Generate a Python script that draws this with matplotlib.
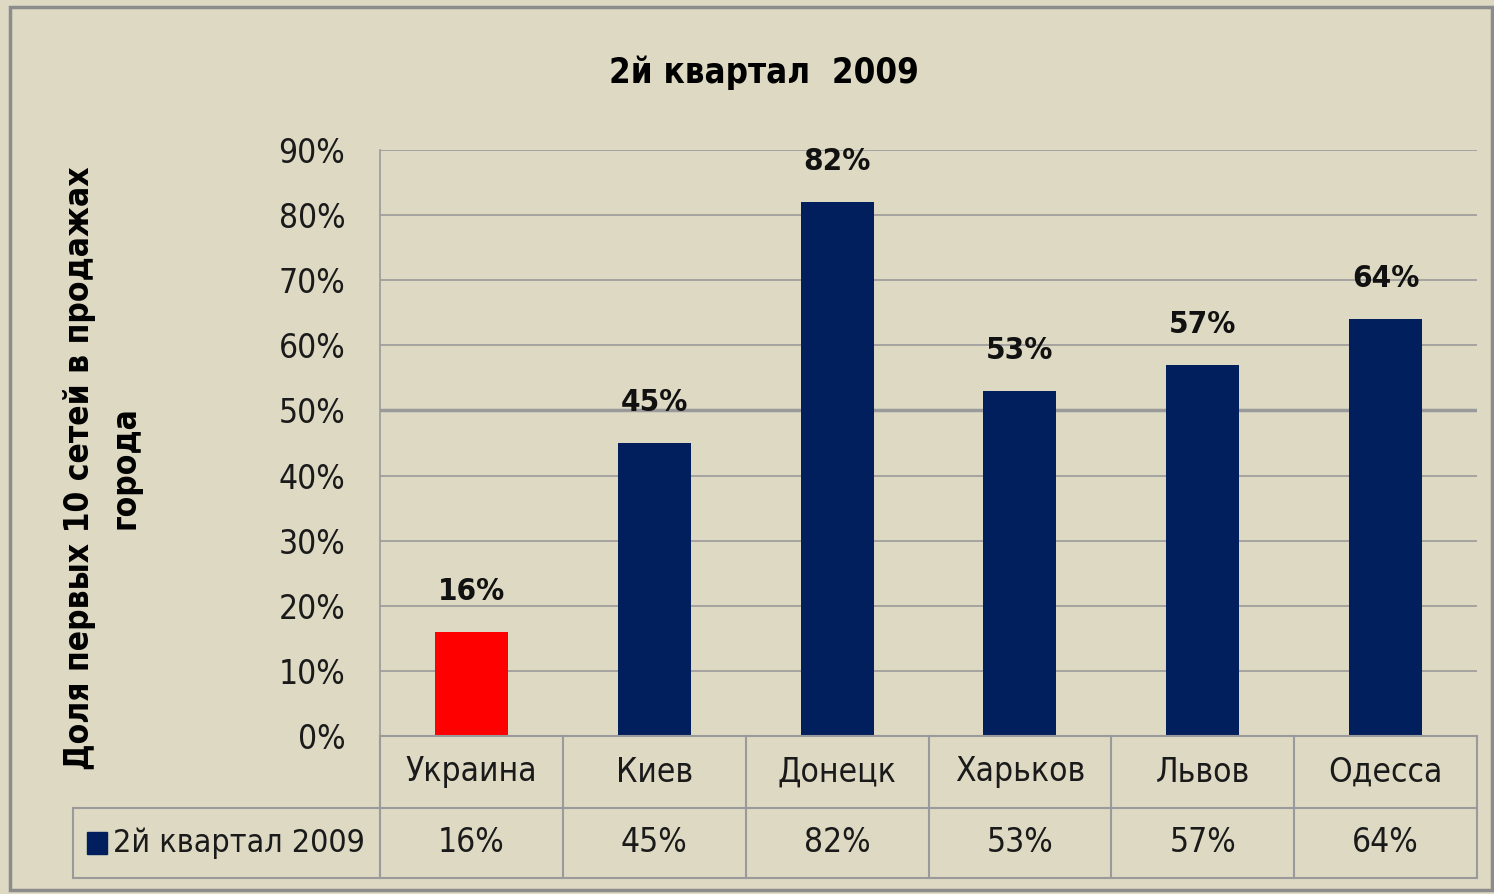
import matplotlib
matplotlib.use("Agg")
import matplotlib.pyplot as plt
import matplotlib.transforms as mtransforms
from matplotlib.patches import Rectangle

cities = ["Украина", "Киев", "Донецк", "Харьков", "Львов", "Одесса"]
shares = [0.16, 0.45, 0.82, 0.53, 0.57, 0.64]
bar_colors = ["#FF0000", "#001F5C", "#001F5C", "#001F5C", "#001F5C", "#001F5C"]
series_name = "2й квартал 2009"
y_ticks = [0, 0.1, 0.2, 0.3, 0.4, 0.5, 0.6, 0.7, 0.8, 0.9]

plt.rcParams["font.family"] = ["DejaVu Sans"]
plt.rcParams["font.stretch"] = "condensed"

bg = "#DDD9C3"
grid_c = "#9A9A9A"
txt_c = "#1A1A1A"

W, H = 1494, 894
fig = plt.figure(figsize=(W / 100, H / 100), dpi=100, facecolor=bg)

# outer border of the chart
fig.patches.append(Rectangle((10 / W, 1 - 890 / H), 1482 / W, 883 / H, transform=fig.transFigure,
                             fill=False, edgecolor="#8C8C8C", linewidth=2.5))

ax = fig.add_axes([380 / W, 1 - 736 / H, 1097 / W, 586 / H])
ax.set_facecolor(bg)
x = list(range(len(cities)))
ax.bar(x, shares, width=0.4, color=bar_colors, zorder=3)
ax.set_xlim(-0.5, len(cities) - 0.5)
ax.set_ylim(0, 0.9)
ax.set_yticks(y_ticks)
ax.set_yticklabels([f"{int(round(t * 100))}%" for t in y_ticks], fontsize=24, color=txt_c)
ax.tick_params(axis="y", length=0, pad=25)
ax.set_xticks([])
for t in y_ticks[1:]:
    lw = 2.5 if abs(t - 0.5) < 1e-9 else 1.2
    ax.axhline(t, color=grid_c, linewidth=lw, zorder=1)
for s in ["top", "right", "bottom"]:
    ax.spines[s].set_visible(False)
ax.spines["left"].set_color(grid_c)
ax.spines["left"].set_linewidth(1.2)

for xi, v in zip(x, shares):
    ax.text(xi, v + 0.04, f"{round(v * 100):.0f}%", ha="center", va="bottom",
            fontsize=22.5, fontweight="bold", color="#111111")

ax.set_title("2й квартал  2009", fontsize=25, fontweight="bold", pad=48, x=0.35)

# y label, two lines, rotated
fig.text(80 / W, 1 - 468 / H, "Доля первых 10 сетей в продажах", rotation=90,
         ha="center", va="center", fontsize=24, fontweight="bold")
fig.text(125 / W, 1 - 468 / H, "города", rotation=90,
         ha="center", va="center", fontsize=24, fontweight="bold")

# data table under the axis
tr = mtransforms.blended_transform_factory(ax.transData, ax.transAxes)
r1 = -72 / 586
r2 = -142 / 586
left_leg = -0.5 - 307 / (1097 / 6)
kw = dict(color=grid_c, linewidth=1.5, clip_on=False, transform=tr, zorder=5)
ax.plot([-0.5, 5.5], [0, 0], **kw)
ax.plot([left_leg, 5.5], [r1, r1], **kw)
ax.plot([left_leg, 5.5], [r2, r2], **kw)
ax.plot([left_leg, left_leg], [r1, r2], **kw)
for b in [i - 0.5 for i in range(len(cities) + 1)]:
    ax.plot([b, b], [0, r2], **kw)

for xi, name, v in zip(x, cities, shares):
    ax.text(xi, r1 / 2, name, transform=tr, ha="center", va="center", fontsize=24, color=txt_c)
    ax.text(xi, (r1 + r2) / 2, f"{round(v * 100):.0f}%", transform=tr, ha="center",
            va="center", fontsize=24, color=txt_c)

ax.add_patch(Rectangle((left_leg + 0.075, (r1 + r2) / 2 - 0.019), 0.11, 0.038, transform=tr,
                       color="#001F5C", clip_on=False))
ax.text(left_leg + 0.22, (r1 + r2) / 2, series_name, transform=tr, ha="left", va="center",
        fontsize=23, color=txt_c)

fig.savefig("out.png", dpi=100, facecolor=bg)
